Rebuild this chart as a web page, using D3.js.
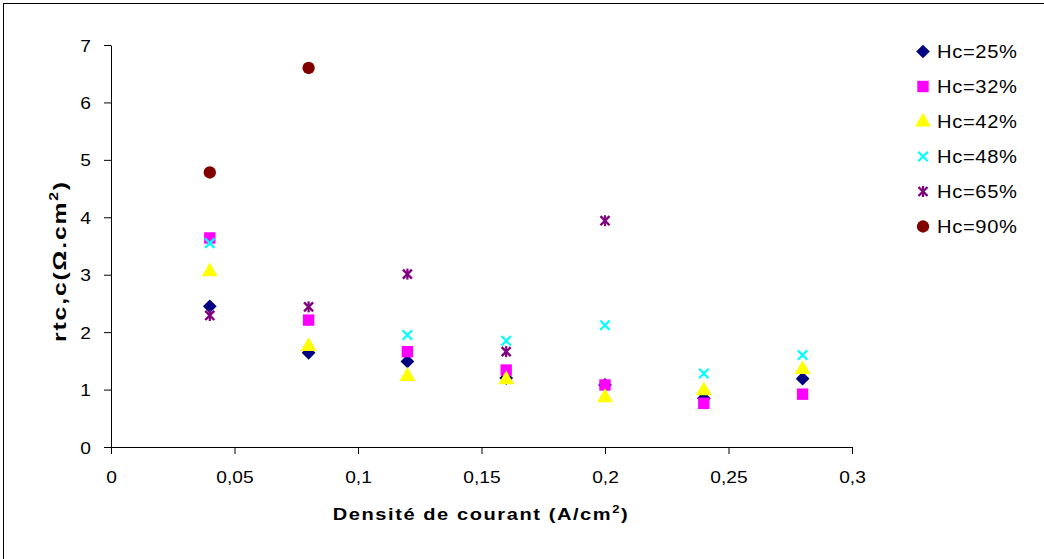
<!DOCTYPE html>
<html><head><meta charset="utf-8">
<script src="https://cdn.jsdelivr.net/npm/d3@7"></script>
<style>
body{margin:0;background:#fff;}
text{font-family:Arial,"Liberation Sans",sans-serif;fill:#000;}
</style></head>
<body><svg id="c" width="1044" height="559"></svg>
<script>
const densities = [0.04, 0.08, 0.12, 0.16, 0.20, 0.24, 0.28];
const hc25 = [2.45, 1.64, 1.49, 1.20, 1.08, 0.85, 1.19];
const hc32 = [3.64, 2.21, 1.66, 1.34, 1.08, 0.76, 0.92];
const hc42 = [3.06, 1.76, 1.24, 1.18, 0.87, 0.99, 1.36];
const hc48 = [3.55, null, 1.95, 1.85, 2.12, 1.28, 1.60];
const hc65 = [2.29, 2.44, 3.01, 1.66, 3.94, null, null];
const hc90 = [4.78, 6.60, null, null, null, null, null];
const seriesNames = ["Hc=25%", "Hc=32%", "Hc=42%", "Hc=48%", "Hc=65%", "Hc=90%"];
const seriesValues = [hc25, hc32, hc42, hc48, hc65, hc90];
const seriesColors = ["#000080", "#FF00FF", "#FFFF00", "#00FFFF", "#800080", "#800000"];
const seriesShapes = ["diamond", "square", "triangle", "cross", "star", "circle"];
const xTicks = [0, 0.05, 0.1, 0.15, 0.2, 0.25, 0.3];
const yTicks = [0, 1, 2, 3, 4, 5, 6, 7];
const xTitle = "Densité de courant (A/cm";
const yTitle = "rtc,c(Ω.cm";

const svg = d3.select("#c");
svg.append("rect").attr("x", 3.5).attr("y", 3.5).attr("width", 1060).attr("height", 570)
  .attr("fill", "none").attr("stroke", "#000").attr("stroke-width", 1);

const x = d3.scaleLinear().domain([0, 0.3]).range([111, 852]);
const y = d3.scaleLinear().domain([0, 7]).range([447, 45]);
const fmt = d => String(+d.toFixed(2)).replace(".", ",");

// stretch glyphs by s, then add letter spacing to reach target width
function fitText(t, target, s) {
  t.attr("transform", (t.attr("transform") || "") + ` scale(${s},1)`);
  const node = t.node();
  const n = node.getNumberOfChars();
  const w = node.getComputedTextLength();
  const ls = (target / s - w) / Math.max(1, n - 1);
  if (ls > 0) t.attr("letter-spacing", ls + "px");
}

const TS = 1.13;
const gx = svg.append("g").attr("transform", `translate(0,${y(0)})`)
  .call(d3.axisBottom(x).tickValues(xTicks).tickSize(7).tickSizeOuter(0).tickFormat(fmt));
gx.select(".domain").attr("stroke", "#000");
gx.selectAll(".tick line").attr("stroke", "#000");
gx.selectAll(".tick text").attr("font-size", "17px").attr("y", 36).attr("dy", 0)
  .attr("transform", `scale(${TS},1)`)
  .style("font-family", "Arial, 'Liberation Sans', sans-serif");

const gy = svg.append("g").attr("transform", `translate(${x(0)},0)`)
  .call(d3.axisLeft(y).tickValues(yTicks).tickSize(7).tickSizeOuter(0).tickFormat(d => String(d)));
gy.select(".domain").attr("stroke", "#000");
gy.selectAll(".tick line").attr("stroke", "#000");
gy.selectAll(".tick text").attr("font-size", "17px").attr("x", -20 / TS).attr("dy", "0.36em")
  .attr("transform", `scale(${TS},1)`)
  .style("font-family", "Arial, 'Liberation Sans', sans-serif");

// titles
const xg = svg.append("g").attr("transform", "translate(481,520)");
const xt = xg.append("text").attr("text-anchor", "middle")
  .attr("font-size", "17px").attr("font-weight", "bold");
xt.append("tspan").text(xTitle);
xt.append("tspan").attr("dy", -7).attr("font-size", "11px").text("2");
xt.append("tspan").attr("dy", 7).text(")");
fitText(xt, 295, 1.18);

const yg = svg.append("g").attr("transform", "translate(66,261) rotate(-90)");
const yt = yg.append("text").attr("text-anchor", "middle")
  .attr("font-size", "19px").attr("font-weight", "bold");
yt.append("tspan").text(yTitle);
yt.append("tspan").attr("dy", -8).attr("font-size", "12px").text("2");
yt.append("tspan").attr("dy", 8).text(")");
fitText(yt, 160, 1.3);

function drawMarker(g, shape, color, cx, cy) {
  if (shape === "diamond") {
    g.append("path").attr("d", d3.symbol(d3.symbolDiamond2, 120)()).attr("transform", `translate(${cx},${cy})`)
      .attr("fill", color);
  } else if (shape === "square") {
    g.append("path").attr("d", d3.symbol(d3.symbolSquare, 130)()).attr("transform", `translate(${cx},${cy})`).attr("fill", color);
  } else if (shape === "triangle") {
    g.append("path").attr("d", d3.symbol(d3.symbolTriangle, 110)()).attr("transform", `translate(${cx},${cy+0.5})`).attr("fill", color);
  } else if (shape === "cross") {
    g.append("path").attr("d", d3.symbol(d3.symbolX, 60)()).attr("transform", `translate(${cx},${cy})`)
      .attr("fill", "none").attr("stroke", color).attr("stroke-width", 2.2);
  } else if (shape === "star") {
    g.append("path").attr("d", d3.symbol(d3.symbolX, 55)()).attr("transform", `translate(${cx},${cy})`)
      .attr("fill", "none").attr("stroke", color).attr("stroke-width", 2.4);
    g.append("line").attr("x1", cx).attr("x2", cx).attr("y1", cy - 5.5).attr("y2", cy + 5.5)
      .attr("stroke", color).attr("stroke-width", 2.2);
  } else if (shape === "circle") {
    g.append("path").attr("d", d3.symbol(d3.symbolCircle, 120)()).attr("transform", `translate(${cx},${cy})`).attr("fill", color);
  }
}

const pts = svg.append("g");
seriesValues.forEach((vals, i) => {
  const g = pts.append("g");
  vals.forEach((v, j) => {
    if (v === null) return;
    drawMarker(g, seriesShapes[i], seriesColors[i], x(densities[j]), y(v));
  });
});

// legend
const leg = svg.append("g");
seriesNames.forEach((name, i) => {
  const cy = 51.5 + i * 35;
  drawMarker(leg, seriesShapes[i], seriesColors[i], 923, cy);
  const tg = leg.append("g").attr("transform", `translate(937,${cy + 6.5})`);
  const t = tg.append("text").attr("font-size", "18px").text(name);
  fitText(t, 80, 1.12);
});
</script></body></html>
